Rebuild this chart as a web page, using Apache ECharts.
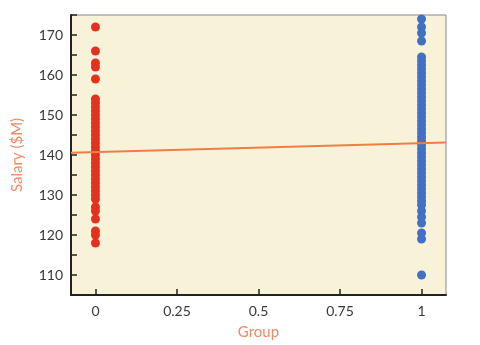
<!DOCTYPE html>
<html>
<head>
<meta charset="utf-8">
<script src="https://cdn.jsdelivr.net/npm/echarts@6/dist/echarts.min.js"></script>
<style>html,body{margin:0;padding:0;background:#fff}#c{width:480px;height:345px}</style>
</head>
<body>
<div id="c"></div>
<script>
var xTicks = [0, 0.25, 0.5, 0.75, 1];
var yTicks = [110, 120, 130, 140, 150, 160, 170];
var group0Salary = [172,166,163,162,159,154,153,152,151,150,149,148,147,146,145,144,143,142,141,140,139,138,137,136,135,134,133,132,131,130,129,127,126,124,121,120,118];
var group1Salary = [174,172,170.5,168.5,164.5,163.5,162.5,161.5,160.5,159.5,158.5,157.5,156.5,155.5,154.5,153.5,152.5,151.5,150.5,149.5,148.5,147.5,146.5,145.5,144.5,143.5,142.5,141.5,140.5,139.5,138.5,137.5,136.5,135.5,134.5,133.5,132.5,131.5,130.5,129.5,128.5,127.5,126,124.5,123,120.5,119,110];
var fitX = [-0.075, 1.075];
var fitY = [140.55, 143.1];

var chart = echarts.init(document.getElementById('c'), null, {renderer:'canvas'});
var font = 'Lato, "Open Sans", sans-serif';
chart.setOption({
  animation: false,
  grid: {left: 71, right: 34, top: 15, bottom: 49, show: true, backgroundColor: '#f8f3d8', borderColor: '#8a8a8a', borderWidth: 1},
  xAxis: {
    type: 'value', min: -0.075, max: 1.075,
    name: 'Group', nameLocation: 'middle', nameGap: 30,
    nameTextStyle: {color: '#f08a66', fontSize: 15, fontFamily: font},
    axisLine: {show: true, onZero: false, lineStyle: {color: '#222', width: 2}},
    axisTick: {show: true, inside: true, length: 6, lineStyle: {color: '#222', width: 1.5}, customValues: xTicks},
    axisLabel: {color: '#3a3a3a', fontSize: 14, fontFamily: font, margin: 9, customValues: xTicks,
      formatter: function(v){ return String(+v.toFixed(2)); }},
    splitLine: {show: false}
  },
  yAxis: {
    type: 'value', min: 105, max: 175, interval: 5,
    name: 'Salary ($M)', nameLocation: 'middle', nameGap: 46,
    nameTextStyle: {color: '#f08a66', fontSize: 15, fontFamily: font},
    axisLine: {show: true, onZero: false, lineStyle: {color: '#222', width: 2}},
    axisTick: {show: true, inside: true, length: 6, lineStyle: {color: '#222', width: 1.5}},
    axisLabel: {color: '#3a3a3a', fontSize: 14, fontFamily: font, margin: 8,
      formatter: function(v){ return yTicks.indexOf(v) >= 0 ? String(v) : ''; }},
    splitLine: {show: false}
  },
  series: [
    {type: 'scatter', symbolSize: 9, itemStyle: {color: '#e2321f', opacity: 1},
     data: group0Salary.map(function(s){ return [0, s]; }), z: 2},
    {type: 'scatter', symbolSize: 9, itemStyle: {color: '#4470c4', opacity: 1},
     data: group1Salary.map(function(s){ return [1, s]; }), z: 2},
    {type: 'line', symbol: 'none', lineStyle: {color: '#f07d45', width: 2},
     data: fitX.map(function(x, i){ return [x, fitY[i]]; }), z: 5}
  ]
});
</script>
</body>
</html>
